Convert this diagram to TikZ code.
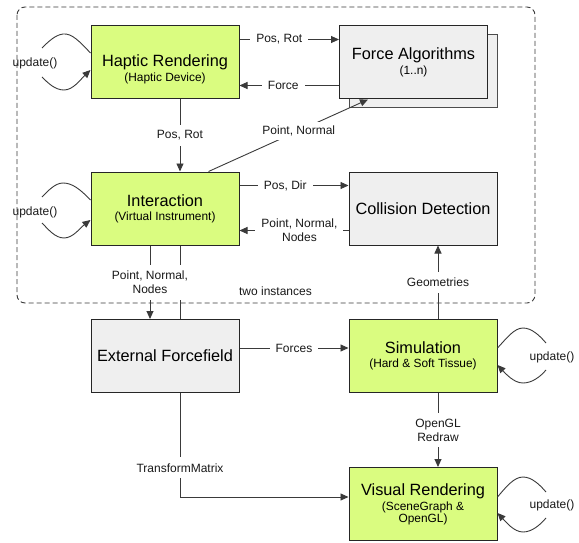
\documentclass[tikz,border=0pt]{standalone}
\usepackage{fontspec}
\setmainfont{Liberation Sans}
\usetikzlibrary{arrows.meta,calc}

\definecolor{boxgreen}{HTML}{DAFC80}
\definecolor{boxgrey}{HTML}{EFEFEF}
\definecolor{linegrey}{HTML}{3A3A3A}

\tikzset{
  block/.style={draw=black!85, line width=1pt, minimum width=148pt, minimum height=73pt,
                align=center, inner sep=2pt},
  active/.style={block, fill=boxgreen},
  passive/.style={block, fill=boxgrey},
  conn/.style={draw=linegrey, line width=0.9pt, -{Triangle[length=8pt,width=7pt]}},
  plain/.style={draw=linegrey, line width=0.9pt},
  lab/.style={fill=white, inner sep=6pt, align=center,
              font=\fontsize{12}{14}\selectfont, text=black!90},
  looplab/.style={inner sep=0pt, font=\fontsize{12}{14}\selectfont, text=black!90},
}

\newcommand{\bigt}{\fontsize{16.3}{17}\selectfont}
\newcommand{\smallt}{\fontsize{11.9}{13.5}\selectfont}

\begin{document}
\begin{tikzpicture}[x=1pt, y=-1pt]
  \useasboundingbox (0,0) rectangle (579,543);

  % group of the haptic loop (drawn first, labels cover it)
  \draw[draw=linegrey, line width=0.9pt, dash pattern=on 5pt off 3pt, rounded corners=8pt]
    (17,7) rectangle (535,303);

  % blocks
  \node[active] (hap) at (165,62.5) {\rule{0pt}{26pt}\bigt Haptic Rendering\\[2pt]\smallt (Haptic Device)};
  \node[passive, draw=black!70] (forceb) at (423,71.5) {};
  \node[passive] (force) at (413.5,62.5) {\bigt Force Algorithms\\[2pt]\smallt (1..n)};
  \node[active] (inter) at (165,208.5) {\bigt Interaction\\[2pt]\smallt (Virtual Instrument)};
  \node[passive] (coll) at (423,208.5) {\bigt Collision Detection};
  \node[passive] (ext) at (165,356) {\bigt External Forcefield};
  \node[active] (sim) at (423,356) {\bigt Simulation\\[2pt]\smallt (Hard \& Soft Tissue)};
  \node[active] (vis) at (423,504) {\bigt Visual Rendering\\[2pt]\smallt (SceneGraph \&\\[0pt]\smallt OpenGL)};

  % haptic rendering <-> force algorithms
  \draw[conn] ($(hap.north east)+(0,14)$) -- ($(force.north west)+(0,14)$)
    node[lab, pos=0.4] {Pos, Rot};
  \draw[conn] ($(force.south west)+(0,-14)$) -- ($(hap.south east)+(0,-14)$)
    node[lab, pos=0.56] {Force};

  % haptic rendering -> interaction
  \draw[conn] ($(hap.south)+(15,0)$) -- ($(inter.north)+(15,0)$)
    node[lab, midway] {Pos, Rot};

  % interaction -> force algorithms
  \coordinate (pnstart) at ($(inter.north west)+(118,0)$);
  \coordinate (pnend) at ($(force.south west)+(29,0)$);
  \draw[conn] (pnstart) -- (pnend) node[lab, pos=0.566, inner sep=4pt] {Point, Normal};

  % interaction <-> collision detection
  \draw[conn] ($(inter.north east)+(0,14)$) -- ($(coll.north west)+(0,14)$)
    node[lab, pos=0.42] {Pos, Dir};
  \draw[conn] ($(coll.south west)+(0,-15)$) -- ($(inter.south east)+(0,-15)$)
    node[lab, pos=0.45] {Point, Normal,\\Nodes};

  % interaction -> external forcefield (two connectors)
  \draw[plain] ($(inter.south)+(15,0)$) -- ($(ext.north)+(15,0)$);
  \draw[conn] ($(inter.south)+(-15,0)$) -- ($(ext.north)+(-15,0)$)
    node[lab, midway] {Point, Normal,\\Nodes};

  \node[looplab] (inst) at (275.5,291) {two instances};

  % simulation -> collision detection
  \draw[conn] ($(sim.north)+(15,0)$) -- ($(coll.south)+(15,0)$)
    node[lab, midway] {Geometries};

  % external forcefield -> simulation
  \draw[conn] ($(ext.east)+(0,-8)$) -- ($(sim.west)+(0,-8)$)
    node[lab, midway] {Forces};

  % simulation -> visual rendering
  \draw[conn] ($(sim.south)+(15,0)$) -- ($(vis.north)+(15,0)$)
    node[lab, midway] {OpenGL\\Redraw};

  % external forcefield -> visual rendering
  \draw[conn] ($(ext.south)+(15,0)$) |- ($(vis.west)+(0,-7)$)
    node[lab, pos=0.36] {TransformMatrix};

  % update() loops on the left
  \node[looplab] (uph) at (35,63) {update()};
  \draw[plain] ($(hap.west)+(0,-9.5)$) .. controls (80,42) and (72,33) .. (63,34)
    .. controls (55,35) and (48,42) .. (42,48);
  \draw[conn] (42,77) .. controls (48,83) and (55,90) .. (64,90)
    .. controls (73,90) and (80,80) .. ($(hap.west)+(0,7.5)$);

  \node[looplab] (upi) at (35,212) {update()};
  \draw[plain] ($(inter.west)+(0,-8.5)$) .. controls (80,189) and (72,183) .. (63,183)
    .. controls (55,183) and (48,191) .. (42,197);
  \draw[conn] (42,223) .. controls (48,229) and (55,238) .. (64,238)
    .. controls (73,238) and (80,228) .. ($(inter.west)+(0,11.5)$);

  % update() loops on the right
  \node[looplab] (ups) at (552,357) {update()};
  \draw[plain] ($(sim.east)+(0,-8)$) .. controls (506,339) and (514,328) .. (523,328)
    .. controls (532,328) and (540,336) .. (546,343);
  \draw[conn] (546,370) .. controls (540,377) and (532,383) .. (523,383)
    .. controls (514,383) and (506,374) .. ($(sim.east)+(0,9)$);

  \node[looplab] (upv) at (552,505) {update()};
  \draw[plain] ($(vis.east)+(0,-7)$) .. controls (506,487) and (514,477) .. (523,477)
    .. controls (532,477) and (540,485) .. (546,492);
  \draw[conn] (546,518) .. controls (540,525) and (532,532) .. (523,532)
    .. controls (514,532) and (506,522) .. ($(vis.east)+(0,9)$);
\end{tikzpicture}
\end{document}
